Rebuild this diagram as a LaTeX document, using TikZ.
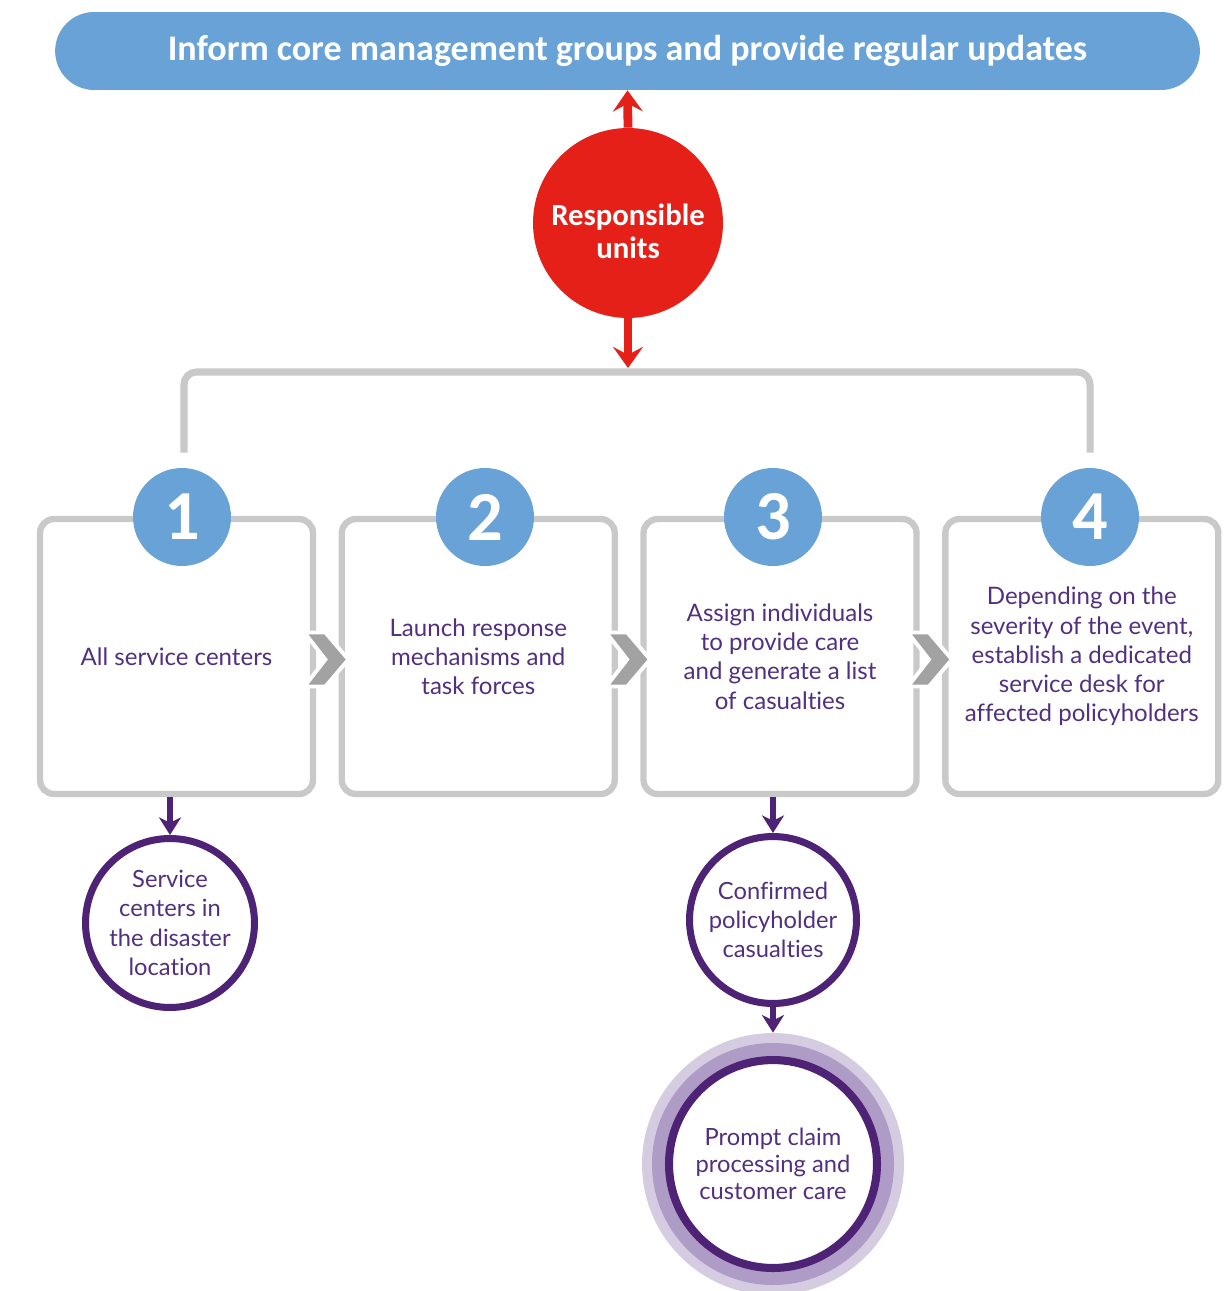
\documentclass[tikz,border=0pt]{standalone}
\usepackage{fontspec}
\setmainfont{Lato}[Ligatures=NoCommon]
\newfontfamily\headfont{Carlito}
\usepackage{tikz}
\usetikzlibrary{arrows.meta,positioning,calc}

\definecolor{bannerblue}{HTML}{68A2D6}
\definecolor{unitred}{HTML}{E52019}
\definecolor{framegray}{HTML}{C9C9C9}
\definecolor{chevgray}{HTML}{A2A2A2}
\definecolor{deeppurple}{HTML}{4E2375}
\definecolor{textpurple}{HTML}{52307F}
\definecolor{halolight}{HTML}{D6CCE2}
\definecolor{halomid}{HTML}{AE9BC6}

\begin{document}
\begin{tikzpicture}[x=0.02cm,y=-0.02cm,
  banner/.style={fill=bannerblue,rounded corners=0.78cm,minimum width=22.9cm,minimum height=1.56cm,
    text=white,font=\headfont\bfseries\fontsize{20.5}{22}\selectfont},
  unit/.style={circle,fill=unitred,minimum size=3.8cm,inner sep=0pt},
  unitlabel/.style={text=white,align=center,font=\headfont\bfseries\fontsize{17.5}{18.7}\selectfont},
  stepframe/.style={draw=framegray,line width=3.6pt,rounded corners=0.28cm,minimum width=5.46cm,
    minimum height=5.5cm,text=textpurple,align=center,font=\fontsize{13.7}{16.6}\selectfont},
  numdisc/.style={circle,fill=bannerblue,minimum size=1.96cm,inner sep=0pt,text=white,
    font=\headfont\bfseries\fontsize{40}{40}\selectfont},
  chev/.style={fill=chevgray,draw=white,line width=2.2pt,line join=miter},
  outcome/.style={circle,draw=deeppurple,line width=4pt,fill=white,inner sep=0pt,text=textpurple,
    align=center,font=\fontsize{13.5}{16.6}\selectfont},
  bracket/.style={draw=framegray,line width=4pt,rounded corners=0.25cm},
  redarrow/.style={draw=unitred,line width=5pt,-{Stealth[length=12pt,width=17pt,inset=4.5pt]}},
  purplearrow/.style={draw=deeppurple,line width=3.8pt,-{Stealth[length=10pt,width=12.5pt,inset=3pt]}}
]
\useasboundingbox (0,0) rectangle (1228,1291);

% banner and responsible units
\node[banner] (inform) at (627.5,51) {Inform core management groups and provide regular updates};
\node[unit] (units) at (628,223) {};
\node[unitlabel] (unitstext) at ($(units.center)+(0,8)$) {Responsible\\units};
\coordinate (fork) at (628,372);

% the four steps
\node[stepframe] (box1) at (176.5,656.5) {All service centers};
\node[stepframe,right=0.45cm of box1] (box2) {Launch response\\mechanisms and\\task forces};
\node[stepframe,right=0.45cm of box2] (box3) {Assign individuals\\to provide care\\and generate a list\\of casualties};
\node[stepframe,right=0.45cm of box3] (box4) {Depending on the\\severity of the event,\\establish a dedicated\\service desk for\\affected policyholders};

\node[numdisc] (n1) at (182,517) {1};
\node[numdisc] (n2) at (485,517) {2};
\node[numdisc] (n3) at (773,517) {3};
\node[numdisc] (n4) at (1090,517) {4};

% bracket from the red circle to steps 1 and 4
\draw[bracket] ($(n1.north)+(2,-15)$) |- (fork) -| ($(n4.north)+(0,-15)$);
\draw[redarrow] (units.north) -- (inform.south);
\draw[redarrow] (units.south) -- ($(fork)+(0,-4)$);

% chevrons between the steps
\foreach \a/\b in {box1/box2,box2/box3,box3/box4}
  \filldraw[chev] ($(\a.east)!0.5!(\b.west)$) ++(-23,-24) -- ++(21,0) -- ++(23,27)
    -- ++(-23,27) -- ++(-21,0) -- ++(21,-27) -- cycle;

% outcomes
\node[outcome,minimum size=3.38cm] (sc) at (170,923) {Service\\centers in\\the disaster\\location};
\node[outcome,minimum size=3.34cm] (cc) at (773,920) {Confirmed\\policyholder\\casualties};
\node[circle,fill=halolight,minimum size=5.24cm] (halo) at (773,1164) {};
\fill[halomid] (halo.center) circle (121);
\node[outcome,minimum size=4.16cm,line width=4.6pt,font=\fontsize{13.5}{15.3}\selectfont] (pc) at (halo.center)
  {Prompt claim\\processing and\\customer care};

\draw[purplearrow] (box1.south -| sc.north) -- (sc.north);
\draw[purplearrow] (box3.south -| cc.north) -- (cc.north);
\draw[purplearrow] (cc.south) -- (halo.north);
\end{tikzpicture}
\end{document}
